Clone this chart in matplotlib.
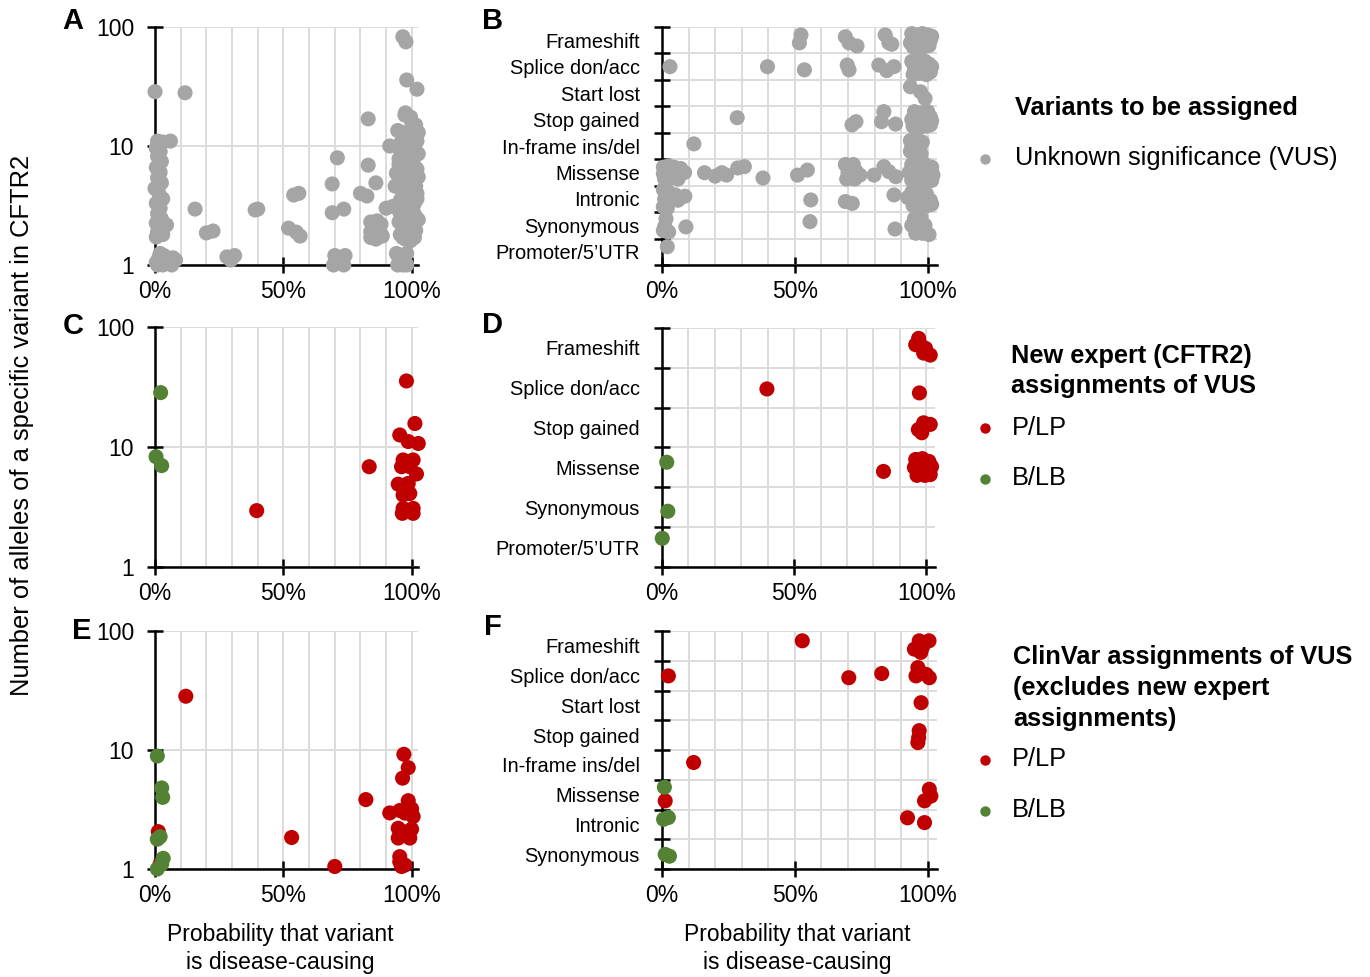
import numpy as np
import matplotlib
matplotlib.use("Agg")
import matplotlib.pyplot as plt
from matplotlib.lines import Line2D
from matplotlib.ticker import NullLocator

plt.rcParams['font.family'] = ['Liberation Sans', 'DejaVu Sans']

GRAY = '#A5A5A5'
RED = '#C00000'
GREEN = '#548235'
GRID = '#DCDCDC'

# ---------------------------------------------------------------- data
# Panel A: all VUS, probability (%) vs number of alleles
A_prob = [0, 11.7, 1, 3, 6,
          0.5, 2, 1, 2.5, 0.5, 2, 1, 2.5, 0, 1.5, 3, 0.5, 2, 1, 2.5, 0.5, 4.5, 2, 1, 3, 0.5,
          15.6, 20, 22.6, 39, 40, 28, 31, 29.5,
          0.5, 1.5, 3, 3.5, 5, 6.5, 7, 8, 1, 4, 2,
          96.5, 97.7, 98, 102, 83, 97.3, 91.4, 71, 83, 69, 86, 80, 82.5, 54, 56, 69, 73.5,
          52, 55, 56.5, 90,
          84, 86.5, 88, 84, 86.5, 88, 84, 86, 88.5, 85, 87.5,
          69.5, 71, 72.5, 74, 70, 73.5,
          94.5, 96, 97.5, 95, 98, 96.5, 94, 98, 95.5, 97,
          97.5, 99.5, 101.5, 96, 98, 100.5, 102, 95.5, 97.5, 99.5, 101.5, 96, 98.5, 100.5,
          95, 97.5, 102, 99.5, 96, 101, 98, 95, 100.5, 97, 102, 99, 95.5, 101, 97.5, 99.5,
          95.5, 101.5, 98, 96, 100.5, 97, 99.5, 95.5, 101, 97.5, 99.5,
          94.5, 94, 93.5, 92.5,
          100, 102.5, 96.5, 99, 94.5, 101, 97, 102.5, 99.5, 95, 101, 97.5, 102.5, 95.5, 99,
          101.5, 96.5, 102, 98.5, 96, 100.5, 102.5, 98, 95, 101, 97.5, 100, 96.5, 98.5, 101.5]
A_alleles = [28.6, 28, 11.0, 10.8, 11.0,
             9.6, 9.0, 8.2, 7.4, 6.6, 6.0, 5.4, 4.9, 4.4, 4.0, 3.6, 3.3, 3.0, 2.7, 2.45, 2.25, 2.17, 2.05, 1.9, 1.8, 1.72,
             2.95, 1.86, 1.93, 2.9, 2.95, 1.17, 1.2, 1.1,
             1.05, 1.15, 1.0, 1.2, 1.1, 1.0, 1.15, 1.1, 1.0, 1.05, 1.25,
             82.8, 75, 35.9, 30, 16.9, 18.2, 10, 7.96, 6.9, 4.8, 4.9, 4.0, 3.8, 3.87, 4.0, 2.75, 2.95,
             2.04, 1.89, 1.75, 3.0,
             2.3, 2.35, 2.2, 1.9, 2.0, 1.8, 1.7, 1.65, 1.75, 2.1, 1.95,
             1.0, 1.15, 1.05, 1.2, 1.2, 1.0,
             1.0, 1.2, 1.05, 1.15, 1.25, 1.0, 1.25, 1.0, 1.1, 1.15,
             19, 17.5, 15, 13, 12.5, 11.5, 11, 10.5, 10, 9.5, 9, 8.5, 8, 7.5,
             7, 6.8, 6.4, 6, 5.6, 5.3, 5, 4.7, 4.5, 4.2, 4, 3.7, 3.5, 3.3, 3.1, 2.9,
             2.7, 2.55, 2.4, 2.25, 2.1, 2.0, 1.9, 1.8, 1.7, 1.65, 1.6,
             13.5, 5.9, 4.6, 3.1,
             15.5, 13, 11.8, 12, 9.8, 10.2, 8.9, 8.6, 7.2, 7.8, 6.3, 5.9, 5.5, 5.2, 4.8,
             4.6, 3.9, 3.6, 3.4, 3.0, 2.85, 2.4, 2.7, 2.3, 2.3, 2.2, 1.75, 1.7, 1.85, 1.95]

# Panel B: all VUS by variant type (offset = jitter within the row)
B_types = ["Frameshift", "Splice don/acc", "Start lost", "Stop gained", "In-frame ins/del",
           "Missense", "Intronic", "Synonymous", "Promoter/5\u2019UTR"]
B_prob = {
    "Frameshift": [52.3, 51.7, 69, 70.4, 73.4, 84, 85.4, 86.5,
                   94, 96, 98, 100, 95, 97, 99, 101, 94.5, 96.5, 98.5, 100.5, 101.5, 93.5,
                   97.5, 100, 95.5],
    "Splice don/acc": [3, 39.7, 53.6, 69.7, 70.4, 81.6, 84.6, 87.3,
                       94, 96.5, 99, 100.5, 95, 97.5, 100, 94.5, 97, 99.5, 101, 96, 101.5],
    "Start lost": [93.5, 97.3, 99],
    "Stop gained": [28.3, 73, 71.5, 83.5, 82.6, 87.9,
                    95, 97.5, 100, 101, 94, 96.5, 99, 94.5, 97, 99.5, 101, 98, 101.5],
    "In-frame ins/del": [12, 93.5, 96, 98, 94, 97, 95, 97.5, 93.5, 96.5],
    "Missense": [0.5, 2.5, 4.5, 7, 0.5, 3, 5.5, 8.5, 1, 3.5, 6,
                 16, 20, 22.5, 24.3, 28.5, 31, 38, 51, 54.7,
                 69, 72, 70, 73, 69.5, 72.5, 74.5, 79.8, 83.5, 85.4, 88,
                 94, 96.5, 99, 101.5, 93, 95.5, 98, 100.5, 102, 94, 97, 99.5, 101.5,
                 97.5, 100],
    "Intronic": [0.5, 2, 1, 3, 0.5, 2, 5, 8.6, 6, 56, 69, 71.6, 87.3,
                 94, 97, 99.5, 95.5, 98.5, 101, 94.5, 97.5, 100, 101.5, 92.5],
    "Synonymous": [1.5, 1, 2.5, 0.5, 9, 55.7, 87.7,
                   95, 97.5, 94, 96.5, 99, 95.5, 98, 100.5],
    "Promoter/5\u2019UTR": [2],
}
B_offset = {
    "Frameshift": [-0.2, 0.1, -0.13, 0.1, 0.22, -0.2, 0.1, 0.15,
                   -0.25, -0.2, -0.25, -0.2, 0, 0.05, -0.05, 0, 0.25, 0.2, 0.25, 0.2, -0.15, 0.1,
                   0.12, -0.1, -0.1],
    "Splice don/acc": [0, 0, 0.12, -0.06, 0.12, -0.06, 0.15, 0,
                       -0.2, -0.25, -0.2, -0.1, 0.05, 0, 0.1, 0.3, 0.25, 0.3, 0.2, 0.15, 0.0],
    "Start lost": [-0.24, -0.05, 0.2],
    "Stop gained": [-0.07, 0.08, 0.2, -0.3, 0.08, 0.17,
                    -0.3, -0.25, -0.3, -0.1, 0, 0.05, 0, 0.25, 0.3, 0.25, 0.2, 0.12, 0.05],
    "In-frame ins/del": [-0.08, -0.2, -0.25, -0.15, 0.05, 0.1, 0.25, 0.3, 0.2, -0.05],
    "Missense": [-0.2, -0.25, -0.2, -0.15, 0.05, 0, 0.05, 0, 0.25, 0.2, 0.25,
                 0.01, 0.14, 0.01, 0.1, -0.17, -0.22, 0.21, 0.1, -0.09,
                 -0.3, -0.3, 0, -0.05, 0.25, 0.25, 0.1, 0.1, -0.22, -0.03, 0.16,
                 -0.3, -0.25, -0.3, -0.2, 0, 0.05, 0, 0.05, 0.1, 0.3, 0.25, 0.3, 0.3,
                 -0.12, 0.18],
    "Intronic": [-0.35, -0.3, 0, 0.05, 0.3, 0.35, -0.15, -0.1, 0.05, 0.04, 0.1, 0.17, -0.15,
                 -0.25, -0.3, -0.2, 0.05, 0, 0.05, 0.25, 0.3, 0.25, 0.2, -0.05],
    "Synonymous": [-0.25, 0.05, 0.25, 0.2, 0.06, -0.14, 0.14,
                   -0.25, -0.3, 0, 0.05, 0, 0.3, 0.3, 0.35],
    "Promoter/5\u2019UTR": [-0.19],
}

# Panel C: new expert (CFTR2) assignments, probability vs alleles
C_plp_prob = [97.9, 39.6, 83.4, 101.2, 95.3, 98.6, 102.5, 96.6, 100.5, 96, 99.2,
              101.8, 94.7, 98.6, 99.2, 96.6, 96.6, 100.5, 96.3, 100.5]
C_plp_alleles = [35.5, 2.95, 6.85, 15.7, 12.6, 11.1, 10.7, 7.8, 7.8, 6.85, 6.85,
                 5.96, 4.9, 4.97, 4.1, 3.98, 3.08, 3.08, 2.8, 2.8]
C_blb_prob = [2.2, 0.4, 2.6]
C_blb_alleles = [28.4, 8.3, 7.0]

# Panel D: new expert assignments by variant type
D_types = ["Frameshift", "Splice don/acc", "Stop gained", "Missense", "Synonymous",
           "Promoter/5\u2019UTR"]
D_plp_type = ["Frameshift"] * 6 + ["Splice don/acc"] * 2 + ["Stop gained"] * 4 + ["Missense"] * 12
D_plp_prob = [97.1, 97.8, 96, 99.7, 101.5, 99,
              39.7, 97.4,
              99, 101.5, 97, 98.3,
              83.8, 96, 98.5, 101, 95.5, 98, 100.5, 102, 96.5, 99.5, 101.5, 97.5]
D_plp_offset = [-0.24, -0.08, -0.08, 0.01, 0.18, 0.13,
                0.03, 0.13,
                -0.12, -0.08, 0.05, 0.13,
                0.1, -0.2, -0.22, -0.15, 0.0, 0.02, 0.05, -0.02, 0.2, 0.2, 0.18, 0.1]
D_blb_type = ["Missense", "Synonymous", "Promoter/5\u2019UTR"]
D_blb_prob = [1.8, 2.2, 0.1]
D_blb_offset = [-0.13, 0.1, -0.22]

# Panel E: ClinVar assignments, probability vs alleles
E_plp_prob = [12, 53.2, 70, 82.1, 96.9, 98.6, 96.4, 98.6, 91.4, 95.3, 99.9, 100.5, 97.3,
              94.7, 99.9, 94.7, 99.2, 96.6, 95.3, 96, 97.3, 95.3, 1.3, 2]
E_plp_alleles = [28.3, 1.84, 1.05, 3.83, 9.2, 7.1, 5.8, 3.75, 2.96, 3.1, 3.2, 2.76, 2.95,
                 2.2, 2.16, 1.82, 1.82, 2.06, 1.27, 1.05, 1.08, 1.15, 2.06, 1.1]
E_blb_prob = [0.9, 2.6, 3, 2, 0.9, 3.2, 2.6, 0.9]
E_blb_alleles = [8.9, 4.8, 4.0, 1.87, 1.78, 1.23, 1.1, 1.0]

# Panel F: ClinVar assignments by variant type
F_types = ["Frameshift", "Splice don/acc", "Start lost", "Stop gained", "In-frame ins/del",
           "Missense", "Intronic", "Synonymous"]
F_plp_type = (["Frameshift"] * 6 + ["Splice don/acc"] * 8 + ["Start lost"] + ["Stop gained"] * 3
              + ["In-frame ins/del"] + ["Missense"] * 4 + ["Intronic"] * 2)
F_plp_prob = [52.8, 96.8, 100.5, 95, 98, 97.4,
              2.4, 70.3, 82.7, 96.3, 95.6, 99.4, 100.6, 96.9,
              97.5,
              96.8, 96.6, 96.3,
              11.9,
              1.2, 100.6, 101.2, 98.8,
              92.4, 98.8]
F_plp_offset = [-0.17, -0.17, -0.17, 0.11, 0.05, 0.22,
                0.01, 0.07, -0.07, -0.27, 0.01, -0.04, 0.07, -0.15,
                -0.09,
                -0.15, 0.08, 0.25,
                -0.08,
                0.21, -0.18, 0.05, 0.21,
                -0.22, -0.06]
F_blb_type = ["Missense", "Intronic", "Intronic", "Synonymous", "Synonymous"]
F_blb_prob = [0.9, 0.6, 2.4, 1.2, 2.8]
F_blb_offset = [-0.25, -0.17, -0.23, 0.01, 0.07]

# ---------------------------------------------------------------- layout
W, H = 1370, 977
fig = plt.figure(figsize=(W / 100, H / 100), dpi=100)

TICK_FS = 16.5
CAT_FS = 14.4
TEXT_FS = 18.3


def px_axes(left, top, right, bottom):
    return fig.add_axes([left / W, 1 - bottom / H, (right - left) / W, (bottom - top) / H])


def base_style(ax, xmax):
    ax.set_xlim(0, xmax)
    ax.set_xticks([0, 50, 100], labels=['0%', '50%', '100%'])
    ax.set_xticks([10, 20, 30, 40, 60, 70, 80, 90], minor=True)
    ax.tick_params(axis='x', which='major', direction='inout', length=12, width=1.8,
                   pad=5, labelsize=TICK_FS)
    ax.tick_params(axis='x', which='minor', length=0)
    ax.grid(True, axis='x', which='both', color=GRID, lw=1.4)
    ax.spines[['top', 'right']].set_visible(False)
    for s in ('left', 'bottom'):
        ax.spines[s].set_linewidth(1.8)
    ax.set_axisbelow(True)


def log_style(ax):
    ax.set_yscale('log')
    ax.set_ylim(1, 100)
    ax.set_yticks([1, 10, 100], labels=['1', '10', '100'])
    ax.yaxis.set_minor_locator(NullLocator())
    ax.tick_params(axis='y', which='major', direction='inout', length=12, width=1.8,
                   pad=9, labelsize=TICK_FS)
    ax.grid(True, axis='y', which='major', color=GRID, lw=1.4)


def cat_style(ax, cats):
    n = len(cats)
    ax.set_ylim(n, 0)
    ax.set_yticks(np.arange(n) + 0.5, labels=cats)
    ax.set_yticks(np.arange(n + 1), minor=True)
    ax.tick_params(axis='y', which='major', length=0, pad=16, labelsize=CAT_FS)
    ax.tick_params(axis='y', which='minor', direction='inout', length=12, width=1.8)
    ax.grid(True, axis='y', which='minor', color=GRID, lw=1.4)


def dots(ax, x, y, color):
    ax.scatter(x, y, s=118, color=color, edgecolors='none', clip_on=False, zorder=3)


def cat_y(types, names, offsets):
    return [types.index(t) + 0.5 + o for t, o in zip(names, offsets)]


# A
axA = px_axes(155, 27, 418, 265)
base_style(axA, 102.4)
log_style(axA)
dots(axA, A_prob, A_alleles, GRAY)

# B
axB = px_axes(662, 27, 937, 265)
base_style(axB, 103.5)
cat_style(axB, B_types)
for t in B_types:
    dots(axB, B_prob[t], [B_types.index(t) + 0.5 + o for o in B_offset[t]], GRAY)

# C
axC = px_axes(155, 327, 418, 567)
base_style(axC, 102.4)
log_style(axC)
dots(axC, C_plp_prob, C_plp_alleles, RED)
dots(axC, C_blb_prob, C_blb_alleles, GREEN)

# D
axD = px_axes(662, 328, 935, 567)
base_style(axD, 103.3)
cat_style(axD, D_types)
dots(axD, D_plp_prob, cat_y(D_types, D_plp_type, D_plp_offset), RED)
dots(axD, D_blb_prob, cat_y(D_types, D_blb_type, D_blb_offset), GREEN)

# E
axE = px_axes(155, 631, 418, 869)
base_style(axE, 102.4)
log_style(axE)
dots(axE, E_plp_prob, E_plp_alleles, RED)
dots(axE, E_blb_prob, E_blb_alleles, GREEN)

# F
axF = px_axes(662, 631, 937, 869)
base_style(axF, 103.5)
cat_style(axF, F_types)
dots(axF, F_plp_prob, cat_y(F_types, F_plp_type, F_plp_offset), RED)
dots(axF, F_blb_prob, cat_y(F_types, F_blb_type, F_blb_offset), GREEN)


def ftext(x, y, s, **kw):
    fig.text(x / W, 1 - y / H, s, **kw)


# panel letters
for letter, (x, y) in {"A": (73, 21), "B": (493, 21), "C": (73, 326),
                       "D": (492, 325), "E": (82, 631), "F": (493, 627)}.items():
    ftext(x, y, letter, fontsize=21, fontweight='bold', ha='center', va='center')

# shared axis titles
ftext(22, 425, "Number of alleles of a specific variant in CFTR2", fontsize=18.4,
      rotation=90, ha='center', va='center')
for cx in (280, 797):
    ftext(cx, 934, "Probability that variant", fontsize=16.5, ha='center', va='center')
    ftext(cx, 962, "is disease-causing", fontsize=16.5, ha='center', va='center')


# legends
def legend_marker(y, color):
    fig.add_artist(Line2D([985 / W], [1 - y / H], transform=fig.transFigure, marker='o',
                          ms=7.5, ls='', color=color, markeredgewidth=0))


ftext(1015, 108, "Variants to be assigned", fontsize=TEXT_FS, fontweight='bold', va='center')
legend_marker(159, GRAY)
ftext(1015, 158, "Unknown significance (VUS)", fontsize=TEXT_FS, va='center')

ftext(1011, 356, "New expert (CFTR2)", fontsize=TEXT_FS, fontweight='bold', va='center')
ftext(1011, 386, "assignments of VUS", fontsize=TEXT_FS, fontweight='bold', va='center')
legend_marker(428, RED)
ftext(1012, 428, "P/LP", fontsize=TEXT_FS, va='center')
legend_marker(479, GREEN)
ftext(1012, 478, "B/LB", fontsize=TEXT_FS, va='center')

ftext(1013, 657, "ClinVar assignments of VUS", fontsize=TEXT_FS, fontweight='bold', va='center')
ftext(1013, 688, "(excludes new expert", fontsize=TEXT_FS, fontweight='bold', va='center')
ftext(1013, 719, "assignments)", fontsize=TEXT_FS, fontweight='bold', va='center')
legend_marker(760, RED)
ftext(1012, 759, "P/LP", fontsize=TEXT_FS, va='center')
legend_marker(811, GREEN)
ftext(1012, 810, "B/LB", fontsize=TEXT_FS, va='center')

fig.savefig("out.png", dpi=100)
